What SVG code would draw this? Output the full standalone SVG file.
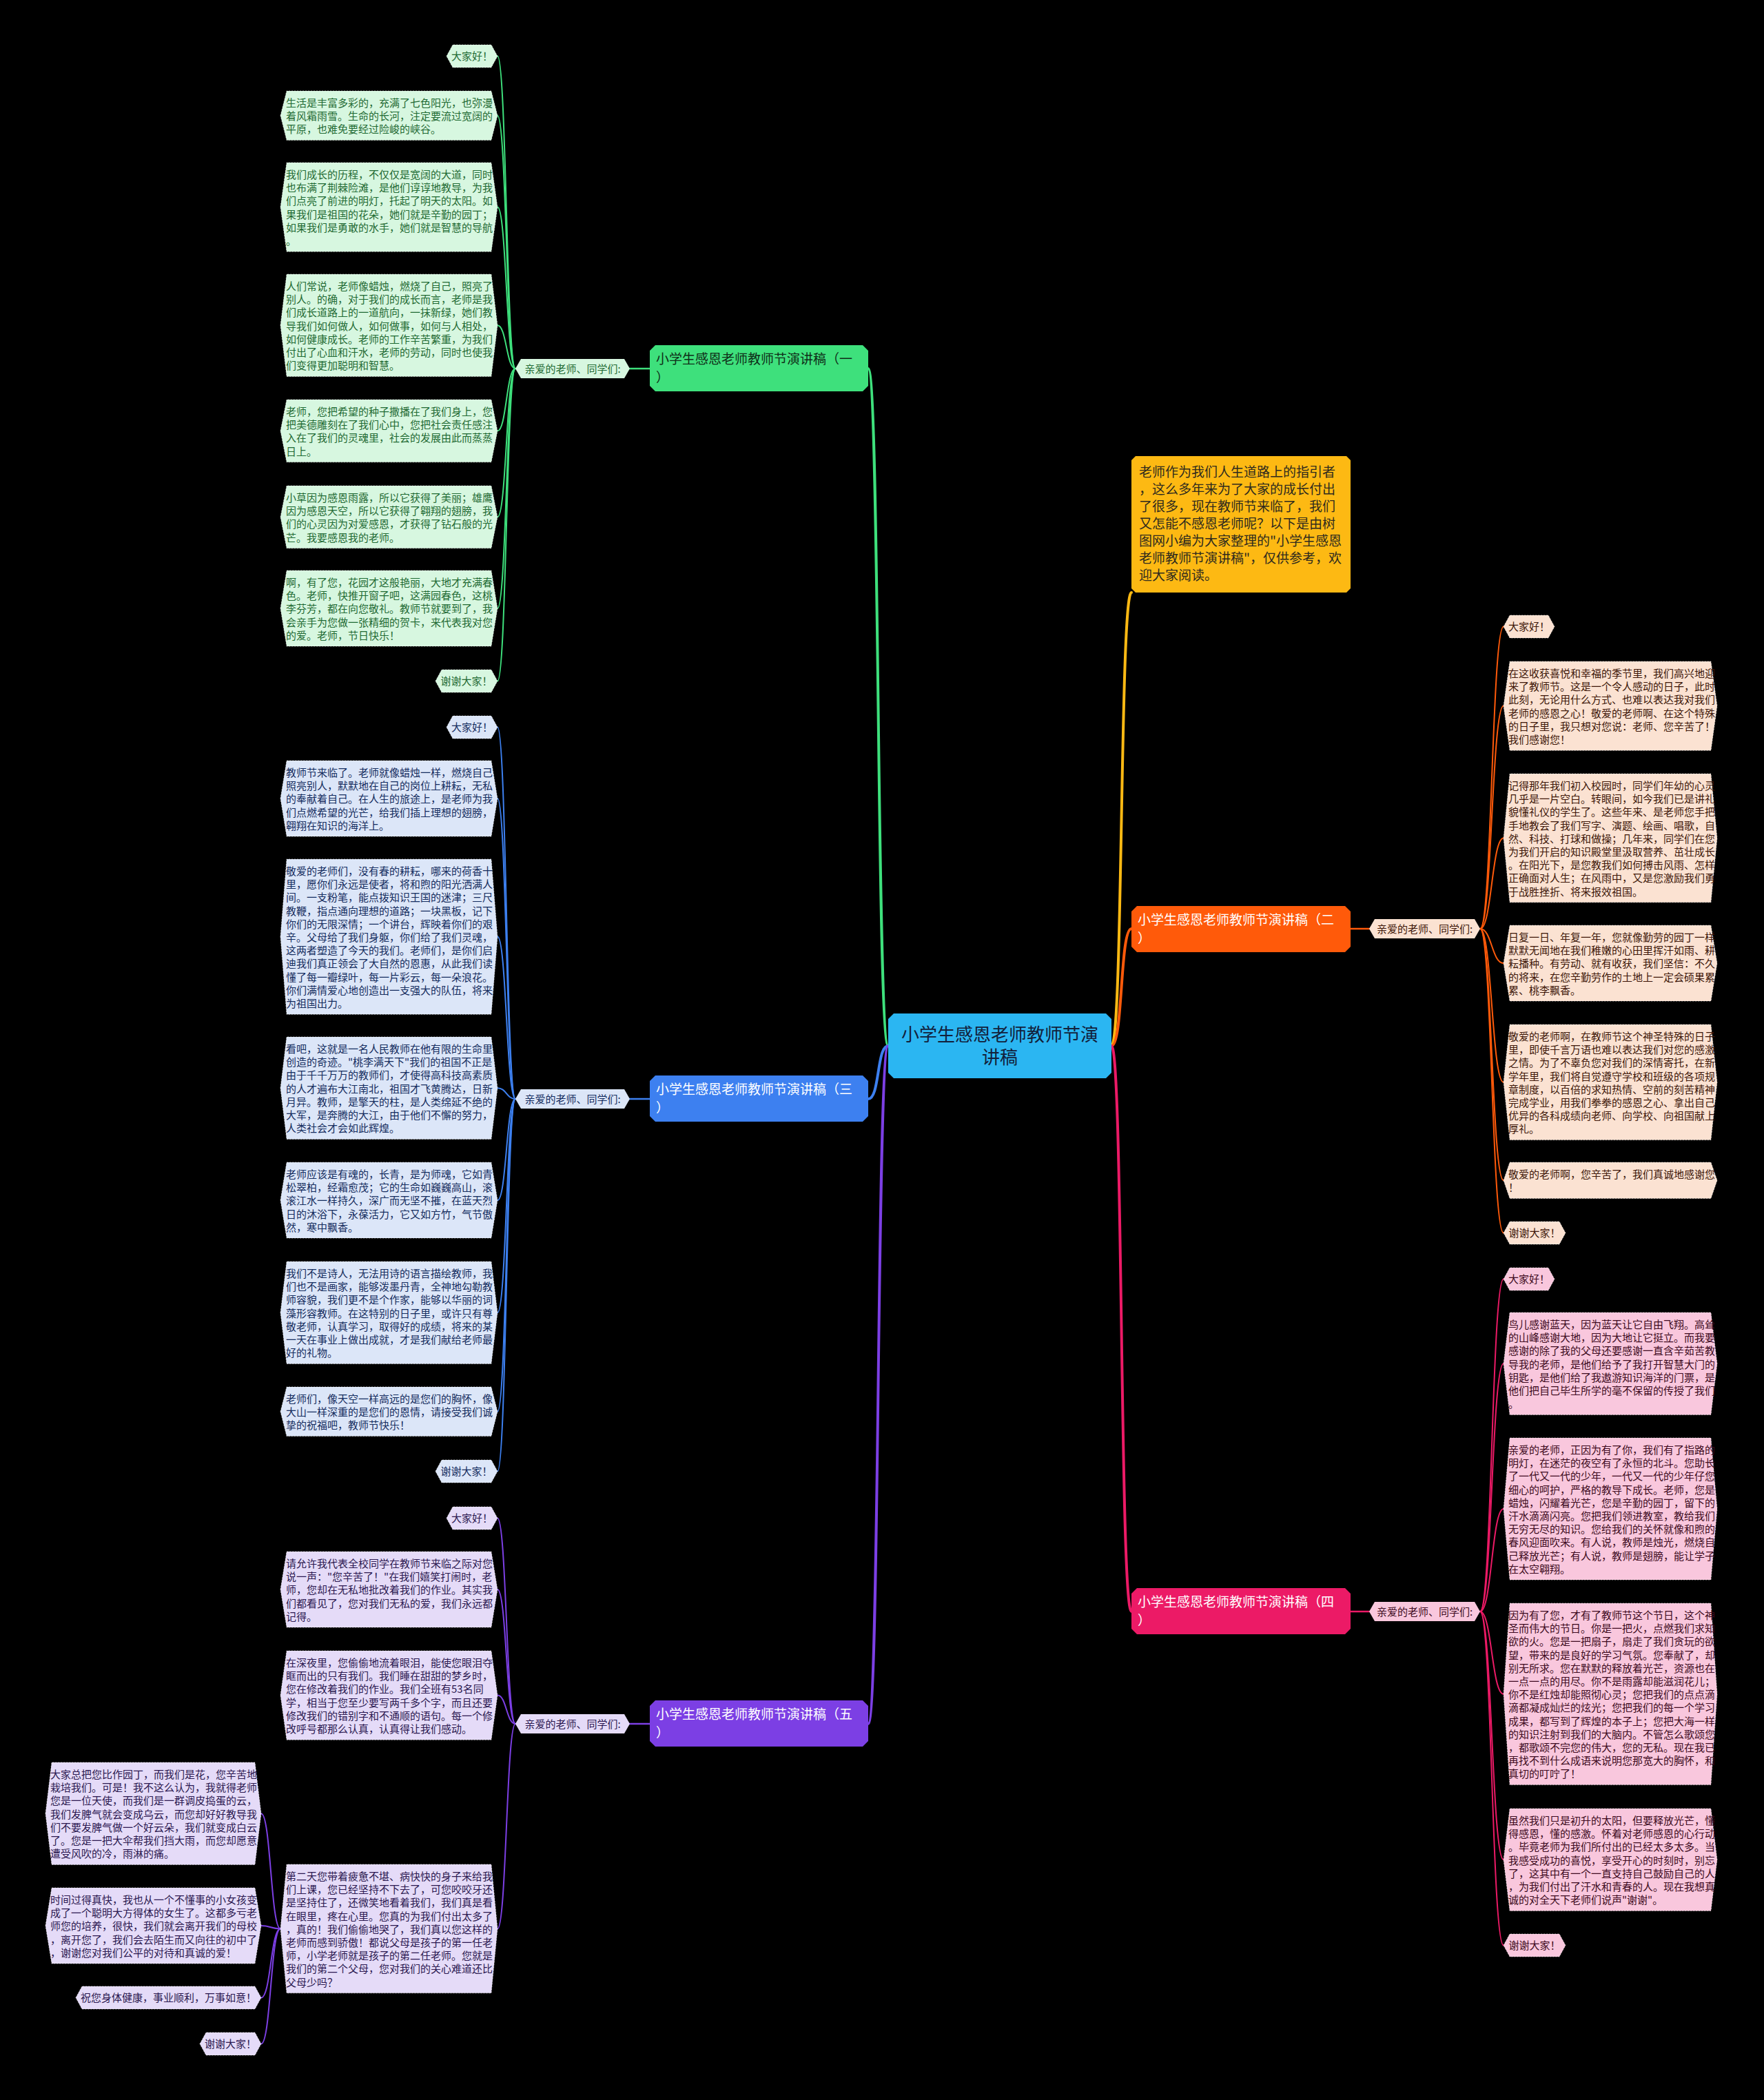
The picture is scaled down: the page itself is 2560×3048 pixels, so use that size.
<svg xmlns="http://www.w3.org/2000/svg" width="2560" height="3048" viewBox="0 0 2560 3048">
<style>
text{font-family:"Noto Sans CJK SC","Noto Sans",sans-serif}
.lt{font-size:15px}
.lb{font-size:15px}
.bt{font-size:19px}
.leaf{stroke:#ffffff;stroke-opacity:.55;stroke-width:1;stroke-dasharray:2 2}
.cn{fill:none;stroke-linecap:round}
.g .leaf,.gL{fill:#d7f7e0}.g text{fill:#1f6a33}
.b .leaf,.bL{fill:#dce6f8}.b text{fill:#142c5e}
.p .leaf,.pL{fill:#e5dbf8}.p text{fill:#2b1850}
.o .leaf,.oL{fill:#fbe2d2}.o text{fill:#3d1608}
.k .leaf,.kL{fill:#f9c7dd}.k text{fill:#3d0a20}
.mid{text-anchor:middle}
</style>
<rect x="0" y="0" width="2560" height="3048" fill="#000000"/>

<g id="connectors">
  <!-- center to branches -->
  <path class="cn" stroke="#3ee07c" stroke-width="4" d="M1289,1518 C1272,1518 1277,535 1260,535"/>
  <path class="cn" stroke="#3d80f0" stroke-width="4" d="M1289,1518 C1272,1518 1277,1595 1260,1595"/>
  <path class="cn" stroke="#7c3fe4" stroke-width="4" d="M1289,1518 C1272,1518 1277,2502 1260,2502"/>
  <path class="cn" stroke="#fdb913" stroke-width="4" d="M1613,1518 C1630,1518 1625,860 1642,860"/>
  <path class="cn" stroke="#ff5a0a" stroke-width="4" d="M1613,1518 C1630,1518 1625,1348 1642,1348"/>
  <path class="cn" stroke="#ec1a66" stroke-width="4" d="M1613,1518 C1630,1518 1625,2339 1642,2339"/>
  <!-- branch to label -->
  <path class="cn" stroke="#3ee07c" stroke-width="2.5" d="M914,535 L943,535"/>
  <path class="cn" stroke="#3d80f0" stroke-width="2.5" d="M914,1595 L943,1595"/>
  <path class="cn" stroke="#7c3fe4" stroke-width="2.5" d="M914,2502 L943,2502"/>
  <path class="cn" stroke="#ff5a0a" stroke-width="2.5" d="M1960,1348 L1987,1348"/>
  <path class="cn" stroke="#ec1a66" stroke-width="2.5" d="M1960,2339 L1987,2339"/>
  <!-- green leaves -->
  <g stroke="#3ee07c" stroke-width="2" class="cn">
    <path class="cn" d="M748,535 C735,535 735,81.5 722,81.5"/>
    <path class="cn" d="M748,535 C735,535 735,167.8 722,167.8"/>
    <path class="cn" d="M748,535 C735,535 735,300.6 722,300.6"/>
    <path class="cn" d="M748,535 C735,535 735,472.2 722,472.2"/>
    <path class="cn" d="M748,535 C735,535 735,625.4 722,625.4"/>
    <path class="cn" d="M748,535 C735,535 735,750.4 722,750.4"/>
    <path class="cn" d="M748,535 C735,535 735,883 722,883"/>
    <path class="cn" d="M748,535 C735,535 735,988.5 722,988.5"/>
  </g>
  <!-- blue leaves -->
  <g stroke="#3d80f0" stroke-width="2" class="cn">
    <path class="cn" d="M748,1595 C735,1595 735,1055.5 722,1055.5"/>
    <path class="cn" d="M748,1595 C735,1595 735,1159 722,1159"/>
    <path class="cn" d="M748,1595 C735,1595 735,1359.6 722,1359.6"/>
    <path class="cn" d="M748,1595 C735,1595 735,1579.2 722,1579.2"/>
    <path class="cn" d="M748,1595 C735,1595 735,1742 722,1742"/>
    <path class="cn" d="M748,1595 C735,1595 735,1905.2 722,1905.2"/>
    <path class="cn" d="M748,1595 C735,1595 735,2048.8 722,2048.8"/>
    <path class="cn" d="M748,1595 C735,1595 735,2135.5 722,2135.5"/>
  </g>
  <!-- purple leaves -->
  <g stroke="#7c3fe4" stroke-width="2" class="cn">
    <path class="cn" d="M748,2502 C735,2502 735,2203.5 722,2203.5"/>
    <path class="cn" d="M748,2502 C735,2502 735,2307 722,2307"/>
    <path class="cn" d="M748,2502 C735,2502 735,2460.6 722,2460.6"/>
    <path class="cn" d="M748,2502 C735,2502 735,2799.4 722,2799.4"/>
    <path class="cn" d="M407,2799.4 C393,2799.4 393,2632.2 379,2632.2"/>
    <path class="cn" d="M407,2799.4 C393,2799.4 393,2795 379,2795"/>
    <path class="cn" d="M407,2799.4 C393,2799.4 393,2899.5 379,2899.5"/>
    <path class="cn" d="M407,2799.4 C393,2799.4 393,2966.5 379,2966.5"/>
  </g>
  <!-- orange leaves -->
  <g stroke="#ff5a0a" stroke-width="2" class="cn">
    <path class="cn" d="M2148,1348 C2165,1348 2165,909.5 2182,909.5"/>
    <path class="cn" d="M2148,1348 C2165,1348 2165,1024.6 2182,1024.6"/>
    <path class="cn" d="M2148,1348 C2165,1348 2165,1216.4 2182,1216.4"/>
    <path class="cn" d="M2148,1348 C2165,1348 2165,1398 2182,1398"/>
    <path class="cn" d="M2148,1348 C2165,1348 2165,1570.8 2182,1570.8"/>
    <path class="cn" d="M2148,1348 C2165,1348 2165,1713.2 2182,1713.2"/>
    <path class="cn" d="M2148,1348 C2165,1348 2165,1789.5 2182,1789.5"/>
  </g>
  <!-- pink leaves -->
  <g stroke="#ec1a66" stroke-width="2" class="cn">
    <path class="cn" d="M2148,2339 C2165,2339 2165,1856.5 2182,1856.5"/>
    <path class="cn" d="M2148,2339 C2165,2339 2165,1979.2 2182,1979.2"/>
    <path class="cn" d="M2148,2339 C2165,2339 2165,2190 2182,2190"/>
    <path class="cn" d="M2148,2339 C2165,2339 2165,2458.8 2182,2458.8"/>
    <path class="cn" d="M2148,2339 C2165,2339 2165,2699.2 2182,2699.2"/>
    <path class="cn" d="M2148,2339 C2165,2339 2165,2823.5 2182,2823.5"/>
  </g>
</g>

<!-- center -->
<g id="center">
  <polygon points="1297,1471 1605,1471 1613,1479 1613,1557 1605,1565 1297,1565 1289,1557 1289,1479" fill="#2bb6f2"/>
  <text x="1451" y="1511" class="mid" font-size="26" fill="#12203a"><tspan x="1451">小学生感恩老师教师节演</tspan><tspan x="1451" dy="33">讲稿</tspan></text>
</g>

<!-- intro -->
<g id="intro">
  <polygon points="1648,662 1954,662 1960,668 1960,854 1954,860 1648,860 1642,854 1642,668" fill="#fdb913"/>
  <text x="1653" y="692" font-size="19" fill="#2e2a1e"><tspan x="1653">老师作为我们人生道路上的指引者</tspan><tspan x="1653" dy="25">，这么多年来为了大家的成长付出</tspan><tspan x="1653" dy="25">了很多，现在教师节来临了，我们</tspan><tspan x="1653" dy="25">又怎能不感恩老师呢？以下是由树</tspan><tspan x="1653" dy="25">图网小编为大家整理的"小学生感恩</tspan><tspan x="1653" dy="25">老师教师节演讲稿"，仅供参考，欢</tspan><tspan x="1653" dy="25">迎大家阅读。</tspan></text>
</g>

<!-- branch 1 green -->
<g id="branch1" class="g">
  <polygon points="951,501 1252,501 1260,509 1260,560 1252,568 951,568 943,560 943,509" fill="#3ee07c"/>
  <text x="952" y="528" class="bt" style="fill:#0f2e18"><tspan x="952">小学生感恩老师教师节演讲稿（一</tspan><tspan x="952" dy="27">）</tspan></text>
</g>
<g id="label1" class="g">
  <polygon class="gL" points="748,535 756,521 906,521 914,535 906,549 756,549"/>
  <text x="831" y="540.5" class="lb mid">亲爱的老师、同学们:</text>
</g>
<g id="g-leaves" class="g">
  <g id="g0"><polygon class="leaf" points="648,81.5 657,65 713,65 722,81.5 713,98 657,98"/><text x="685" y="87" class="lt mid">大家好！</text></g>
  <g id="g1"><polygon class="leaf" points="407,167.8 416,132 713,132 722,167.8 713,203.6 416,203.6"/><text x="415" y="155" class="lt"><tspan x="415">生活是丰富多彩的，充满了七色阳光，也弥漫</tspan><tspan x="415" dy="19.2">着风霜雨雪。生命的长河，注定要流过宽阔的</tspan><tspan x="415" dy="19.2">平原，也难免要经过险峻的峡谷。</tspan></text></g>
  <g id="g2"><polygon class="leaf" points="407,300.6 416,236 713,236 722,300.6 713,365.2 416,365.2"/><text x="415" y="259" class="lt"><tspan x="415">我们成长的历程，不仅仅是宽阔的大道，同时</tspan><tspan x="415" dy="19.2">也布满了荆棘险滩，是他们谆谆地教导，为我</tspan><tspan x="415" dy="19.2">们点亮了前进的明灯，托起了明天的太阳。如</tspan><tspan x="415" dy="19.2">果我们是祖国的花朵，她们就是辛勤的园丁；</tspan><tspan x="415" dy="19.2">如果我们是勇敢的水手，她们就是智慧的导航</tspan><tspan x="415" dy="19.2">。</tspan></text></g>
  <g id="g3"><polygon class="leaf" points="407,472.2 416,398 713,398 722,472.2 713,546.4 416,546.4"/><text x="415" y="421" class="lt"><tspan x="415">人们常说，老师像蜡烛，燃烧了自己，照亮了</tspan><tspan x="415" dy="19.2">别人。的确，对于我们的成长而言，老师是我</tspan><tspan x="415" dy="19.2">们成长道路上的一道航向，一抹新绿，她们教</tspan><tspan x="415" dy="19.2">导我们如何做人，如何做事，如何与人相处，</tspan><tspan x="415" dy="19.2">如何健康成长。老师的工作辛苦繁重，为我们</tspan><tspan x="415" dy="19.2">付出了心血和汗水，老师的劳动，同时也使我</tspan><tspan x="415" dy="19.2">们变得更加聪明和智慧。</tspan></text></g>
  <g id="g4"><polygon class="leaf" points="407,625.4 416,580 713,580 722,625.4 713,670.8 416,670.8"/><text x="415" y="603" class="lt"><tspan x="415">老师，您把希望的种子撒播在了我们身上，您</tspan><tspan x="415" dy="19.2">把美德雕刻在了我们心中，您把社会责任感注</tspan><tspan x="415" dy="19.2">入在了我们的灵魂里，社会的发展由此而蒸蒸</tspan><tspan x="415" dy="19.2">日上。</tspan></text></g>
  <g id="g5"><polygon class="leaf" points="407,750.4 416,705 713,705 722,750.4 713,795.8 416,795.8"/><text x="415" y="728" class="lt"><tspan x="415">小草因为感恩雨露，所以它获得了美丽；雄鹰</tspan><tspan x="415" dy="19.2">因为感恩天空，所以它获得了翱翔的翅膀，我</tspan><tspan x="415" dy="19.2">们的心灵因为对爱感恩，才获得了钻石般的光</tspan><tspan x="415" dy="19.2">芒。我要感恩我的老师。</tspan></text></g>
  <g id="g6"><polygon class="leaf" points="407,883 416,828 713,828 722,883 713,938 416,938"/><text x="415" y="851" class="lt"><tspan x="415">啊，有了您，花园才这般艳丽，大地才充满春</tspan><tspan x="415" dy="19.2">色。老师，快推开窗子吧，这满园春色，这桃</tspan><tspan x="415" dy="19.2">李芬芳，都在向您敬礼。教师节就要到了，我</tspan><tspan x="415" dy="19.2">会亲手为您做一张精细的贺卡，来代表我对您</tspan><tspan x="415" dy="19.2">的爱。老师，节日快乐！</tspan></text></g>
  <g id="g7"><polygon class="leaf" points="632,988.5 641,972 713,972 722,988.5 713,1005 641,1005"/><text x="677" y="994" class="lt mid">谢谢大家！</text></g>
</g>

<!-- branch 3 blue -->
<g id="branch3" class="b">
  <polygon points="951,1561 1252,1561 1260,1569 1260,1620 1252,1628 951,1628 943,1620 943,1569" fill="#3d80f0"/>
  <text x="952" y="1588" class="bt" style="fill:#ffffff"><tspan x="952">小学生感恩老师教师节演讲稿（三</tspan><tspan x="952" dy="27">）</tspan></text>
</g>
<g id="label3" class="b">
  <polygon class="bL" points="748,1595 756,1581 906,1581 914,1595 906,1609 756,1609"/>
  <text x="831" y="1600.5" class="lb mid">亲爱的老师、同学们:</text>
</g>
<g id="b-leaves" class="b">
  <g id="b0"><polygon class="leaf" points="648,1055.5 657,1039 713,1039 722,1055.5 713,1072 657,1072"/><text x="685" y="1061" class="lt mid">大家好！</text></g>
  <g id="b1"><polygon class="leaf" points="407,1159 416,1104 713,1104 722,1159 713,1214 416,1214"/><text x="415" y="1127" class="lt"><tspan x="415">教师节来临了。老师就像蜡烛一样，燃烧自己</tspan><tspan x="415" dy="19.2">照亮别人，默默地在自己的岗位上耕耘，无私</tspan><tspan x="415" dy="19.2">的奉献着自己。在人生的旅途上，是老师为我</tspan><tspan x="415" dy="19.2">们点燃希望的光芒，给我们插上理想的翅膀，</tspan><tspan x="415" dy="19.2">翱翔在知识的海洋上。</tspan></text></g>
  <g id="b2"><polygon class="leaf" points="407,1359.6 416,1247 713,1247 722,1359.6 713,1472.2 416,1472.2"/><text x="415" y="1270" class="lt"><tspan x="415">敬爱的老师们，没有春的耕耘，哪来的荷香十</tspan><tspan x="415" dy="19.2">里，愿你们永远是使者，将和煦的阳光洒满人</tspan><tspan x="415" dy="19.2">间。一支粉笔，能点拨知识王国的迷津；三尺</tspan><tspan x="415" dy="19.2">教鞭，指点通向理想的道路；一块黑板，记下</tspan><tspan x="415" dy="19.2">你们的无限深情；一个讲台，辉映着你们的艰</tspan><tspan x="415" dy="19.2">辛。父母给了我们身躯，你们给了我们灵魂，</tspan><tspan x="415" dy="19.2">这两者塑造了今天的我们。老师们，是你们启</tspan><tspan x="415" dy="19.2">迪我们真正领会了大自然的恩惠，从此我们读</tspan><tspan x="415" dy="19.2">懂了每一瓣绿叶，每一片彩云，每一朵浪花。</tspan><tspan x="415" dy="19.2">你们满情爱心地创造出一支强大的队伍，将来</tspan><tspan x="415" dy="19.2">为祖国出力。</tspan></text></g>
  <g id="b3"><polygon class="leaf" points="407,1579.2 416,1505 713,1505 722,1579.2 713,1653.4 416,1653.4"/><text x="415" y="1528" class="lt"><tspan x="415">看吧，这就是一名人民教师在他有限的生命里</tspan><tspan x="415" dy="19.2">创造的奇迹。"桃李满天下"我们的祖国不正是</tspan><tspan x="415" dy="19.2">由于千千万万的教师们，才使得高科技高素质</tspan><tspan x="415" dy="19.2">的人才遍布大江南北，祖国才飞黄腾达，日新</tspan><tspan x="415" dy="19.2">月异。教师，是擎天的柱，是人类绵延不绝的</tspan><tspan x="415" dy="19.2">大军，是奔腾的大江，由于他们不懈的努力，</tspan><tspan x="415" dy="19.2">人类社会才会如此辉煌。</tspan></text></g>
  <g id="b4"><polygon class="leaf" points="407,1742 416,1687 713,1687 722,1742 713,1797 416,1797"/><text x="415" y="1710" class="lt"><tspan x="415">老师应该是有魂的，长青，是为师魂，它如青</tspan><tspan x="415" dy="19.2">松翠柏，经霜愈茂；它的生命如巍巍高山，滚</tspan><tspan x="415" dy="19.2">滚江水一样持久，深广而无坚不摧，在蓝天烈</tspan><tspan x="415" dy="19.2">日的沐浴下，永葆活力，它又如方竹，气节傲</tspan><tspan x="415" dy="19.2">然，寒中飘香。</tspan></text></g>
  <g id="b5"><polygon class="leaf" points="407,1905.2 416,1831 713,1831 722,1905.2 713,1979.4 416,1979.4"/><text x="415" y="1854" class="lt"><tspan x="415">我们不是诗人，无法用诗的语言描绘教师，我</tspan><tspan x="415" dy="19.2">们也不是画家，能够泼墨丹青，全神地勾勒教</tspan><tspan x="415" dy="19.2">师容貌，我们更不是个作家，能够以华丽的词</tspan><tspan x="415" dy="19.2">藻形容教师。在这特别的日子里，或许只有尊</tspan><tspan x="415" dy="19.2">敬老师，认真学习，取得好的成绩，将来的某</tspan><tspan x="415" dy="19.2">一天在事业上做出成就，才是我们献给老师最</tspan><tspan x="415" dy="19.2">好的礼物。</tspan></text></g>
  <g id="b6"><polygon class="leaf" points="407,2048.8 416,2013 713,2013 722,2048.8 713,2084.6 416,2084.6"/><text x="415" y="2036" class="lt"><tspan x="415">老师们，像天空一样高远的是您们的胸怀，像</tspan><tspan x="415" dy="19.2">大山一样深重的是您们的恩情，请接受我们诚</tspan><tspan x="415" dy="19.2">挚的祝福吧，教师节快乐！</tspan></text></g>
  <g id="b7"><polygon class="leaf" points="632,2135.5 641,2119 713,2119 722,2135.5 713,2152 641,2152"/><text x="677" y="2141" class="lt mid">谢谢大家！</text></g>
</g>

<!-- branch 5 purple -->
<g id="branch5" class="p">
  <polygon points="951,2468 1252,2468 1260,2476 1260,2527 1252,2535 951,2535 943,2527 943,2476" fill="#7c3fe4"/>
  <text x="952" y="2495" class="bt" style="fill:#ffffff"><tspan x="952">小学生感恩老师教师节演讲稿（五</tspan><tspan x="952" dy="27">）</tspan></text>
</g>
<g id="label5" class="p">
  <polygon class="pL" points="748,2502 756,2488 906,2488 914,2502 906,2516 756,2516"/>
  <text x="831" y="2507.5" class="lb mid">亲爱的老师、同学们:</text>
</g>
<g id="p-leaves" class="p">
  <g id="p0"><polygon class="leaf" points="648,2203.5 657,2187 713,2187 722,2203.5 713,2220 657,2220"/><text x="685" y="2209" class="lt mid">大家好！</text></g>
  <g id="p1"><polygon class="leaf" points="407,2307 416,2252 713,2252 722,2307 713,2362 416,2362"/><text x="415" y="2275" class="lt"><tspan x="415">请允许我代表全校同学在教师节来临之际对您</tspan><tspan x="415" dy="19.2">说一声："您辛苦了！"在我们嬉笑打闹时，老</tspan><tspan x="415" dy="19.2">师，您却在无私地批改着我们的作业。其实我</tspan><tspan x="415" dy="19.2">们都看见了，您对我们无私的爱，我们永远都</tspan><tspan x="415" dy="19.2">记得。</tspan></text></g>
  <g id="p2"><polygon class="leaf" points="407,2460.6 416,2396 713,2396 722,2460.6 713,2525.2 416,2525.2"/><text x="415" y="2419" class="lt"><tspan x="415">在深夜里，您偷偷地流着眼泪，能使您眼泪夺</tspan><tspan x="415" dy="19.2">眶而出的只有我们。我们睡在甜甜的梦乡时，</tspan><tspan x="415" dy="19.2">您在修改着我们的作业。我们全班有53名同</tspan><tspan x="415" dy="19.2">学，相当于您至少要写两千多个字，而且还要</tspan><tspan x="415" dy="19.2">修改我们的错别字和不通顺的语句。每一个修</tspan><tspan x="415" dy="19.2">改呼号都那么认真，认真得让我们感动。</tspan></text></g>
  <g id="p3"><polygon class="leaf" points="407,2799.4 416,2706 713,2706 722,2799.4 713,2892.8 416,2892.8"/><text x="415" y="2729" class="lt"><tspan x="415">第二天您带着疲惫不堪、病快快的身子来给我</tspan><tspan x="415" dy="19.2">们上课，您已经坚持不下去了，可您咬咬牙还</tspan><tspan x="415" dy="19.2">是坚持住了，还微笑地看着我们，我们真是看</tspan><tspan x="415" dy="19.2">在眼里，疼在心里。您真的为我们付出太多了</tspan><tspan x="415" dy="19.2">，真的！我们偷偷地哭了，我们真以您这样的</tspan><tspan x="415" dy="19.2">老师而感到骄傲！都说父母是孩子的第一任老</tspan><tspan x="415" dy="19.2">师，小学老师就是孩子的第二任老师。您就是</tspan><tspan x="415" dy="19.2">我们的第二个父母，您对我们的关心难道还比</tspan><tspan x="415" dy="19.2">父母少吗？</tspan></text></g>
  <g id="p4"><polygon class="leaf" points="66,2632.2 75,2558 370,2558 379,2632.2 370,2706.4 75,2706.4"/><text x="73" y="2581" class="lt"><tspan x="73">大家总把您比作园丁，而我们是花，您辛苦地</tspan><tspan x="73" dy="19.2">栽培我们。可是！我不这么认为，我就得老师</tspan><tspan x="73" dy="19.2">您是一位天使，而我们是一群调皮捣蛋的云，</tspan><tspan x="73" dy="19.2">我们发脾气就会变成乌云，而您却好好教导我</tspan><tspan x="73" dy="19.2">们不要发脾气做一个好云朵，我们就变成白云</tspan><tspan x="73" dy="19.2">了。您是一把大伞帮我们挡大雨，而您却愿意</tspan><tspan x="73" dy="19.2">遭受风吹的冷，雨淋的痛。</tspan></text></g>
  <g id="p5"><polygon class="leaf" points="66,2795 75,2740 370,2740 379,2795 370,2850 75,2850"/><text x="73" y="2763" class="lt"><tspan x="73">时间过得真快，我也从一个不懂事的小女孩变</tspan><tspan x="73" dy="19.2">成了一个聪明大方得体的女生了。这都多亏老</tspan><tspan x="73" dy="19.2">师您的培养，很快，我们就会离开我们的母校</tspan><tspan x="73" dy="19.2">，离开您了，我们会去陌生而又向往的初中了</tspan><tspan x="73" dy="19.2">，谢谢您对我们公平的对待和真诚的爱！</tspan></text></g>
  <g id="p6"><polygon class="leaf" points="110,2899.5 119,2883 370,2883 379,2899.5 370,2916 119,2916"/><text x="244.5" y="2905" class="lt mid">祝您身体健康，事业顺利，万事如意！</text></g>
  <g id="p7"><polygon class="leaf" points="290,2966.5 299,2950 370,2950 379,2966.5 370,2983 299,2983"/><text x="334.5" y="2972" class="lt mid">谢谢大家！</text></g>
</g>

<!-- branch 2 orange -->
<g id="branch2" class="o">
  <polygon points="1650,1315 1952,1315 1960,1323 1960,1374 1952,1382 1650,1382 1642,1374 1642,1323" fill="#ff5a0a"/>
  <text x="1651" y="1342" class="bt" style="fill:#ffffff"><tspan x="1651">小学生感恩老师教师节演讲稿（二</tspan><tspan x="1651" dy="27">）</tspan></text>
</g>
<g id="label2" class="o">
  <polygon class="oL" points="1987,1348 1995,1334 2140,1334 2148,1348 2140,1362 1995,1362"/>
  <text x="2067.5" y="1353.5" class="lb mid">亲爱的老师、同学们:</text>
</g>
<g id="o-leaves" class="o">
  <g id="o0"><polygon class="leaf" points="2182,909.5 2191,893 2247,893 2256,909.5 2247,926 2191,926"/><text x="2219" y="915" class="lt mid">大家好！</text></g>
  <g id="o1"><polygon class="leaf" points="2182,1024.6 2191,960 2483,960 2492,1024.6 2483,1089.2 2191,1089.2"/><text x="2189" y="983" class="lt"><tspan x="2189">在这收获喜悦和幸福的季节里，我们高兴地迎</tspan><tspan x="2189" dy="19.2">来了教师节。这是一个令人感动的日子，此时</tspan><tspan x="2189" dy="19.2">此刻，无论用什么方式、也难以表达我对我们</tspan><tspan x="2189" dy="19.2">老师的感恩之心！敬爱的老师啊、在这个特殊</tspan><tspan x="2189" dy="19.2">的日子里，我只想对您说：老师、您辛苦了！</tspan><tspan x="2189" dy="19.2">我们感谢您！</tspan></text></g>
  <g id="o2"><polygon class="leaf" points="2182,1216.4 2191,1123 2483,1123 2492,1216.4 2483,1309.8 2191,1309.8"/><text x="2189" y="1146" class="lt"><tspan x="2189">记得那年我们初入校园时，同学们年幼的心灵</tspan><tspan x="2189" dy="19.2">几乎是一片空白。转眼间，如今我们已是讲礼</tspan><tspan x="2189" dy="19.2">貌懂礼仪的学生了。这些年来、是老师您手把</tspan><tspan x="2189" dy="19.2">手地教会了我们写字、演题、绘画、唱歌，自</tspan><tspan x="2189" dy="19.2">然、科技、打球和做操；几年来，同学们在您</tspan><tspan x="2189" dy="19.2">为我们开启的知识殿堂里汲取营养、茁壮成长</tspan><tspan x="2189" dy="19.2">。在阳光下，是您教我们如何搏击风雨、怎样</tspan><tspan x="2189" dy="19.2">正确面对人生；在风雨中，又是您激励我们勇</tspan><tspan x="2189" dy="19.2">于战胜挫折、将来报效祖国。</tspan></text></g>
  <g id="o3"><polygon class="leaf" points="2182,1398 2191,1343 2483,1343 2492,1398 2483,1453 2191,1453"/><text x="2189" y="1366" class="lt"><tspan x="2189">日复一日、年复一年，您就像勤劳的园丁一样</tspan><tspan x="2189" dy="19.2">默默无闻地在我们稚嫩的心田里挥汗如雨、耕</tspan><tspan x="2189" dy="19.2">耘播种。有劳动、就有收获，我们坚信：不久</tspan><tspan x="2189" dy="19.2">的将来，在您辛勤劳作的土地上一定会硕果累</tspan><tspan x="2189" dy="19.2">累、桃李飘香。</tspan></text></g>
  <g id="o4"><polygon class="leaf" points="2182,1570.8 2191,1487 2483,1487 2492,1570.8 2483,1654.6 2191,1654.6"/><text x="2189" y="1510" class="lt"><tspan x="2189">敬爱的老师啊，在教师节这个神圣特殊的日子</tspan><tspan x="2189" dy="19.2">里，即使千言万语也难以表达我们对您的感激</tspan><tspan x="2189" dy="19.2">之情。为了不辜负您对我们的深情寄托，在新</tspan><tspan x="2189" dy="19.2">学年里，我们将自觉遵守学校和班级的各项规</tspan><tspan x="2189" dy="19.2">章制度，以百倍的求知热情、空前的刻苦精神</tspan><tspan x="2189" dy="19.2">完成学业，用我们拳拳的感恩之心、拿出自己</tspan><tspan x="2189" dy="19.2">优异的各科成绩向老师、向学校、向祖国献上</tspan><tspan x="2189" dy="19.2">厚礼。</tspan></text></g>
  <g id="o5"><polygon class="leaf" points="2182,1713.2 2191,1687 2483,1687 2492,1713.2 2483,1739.4 2191,1739.4"/><text x="2189" y="1710" class="lt"><tspan x="2189">敬爱的老师啊，您辛苦了，我们真诚地感谢您</tspan><tspan x="2189" dy="19.2">！</tspan></text></g>
  <g id="o6"><polygon class="leaf" points="2182,1789.5 2191,1773 2263,1773 2272,1789.5 2263,1806 2191,1806"/><text x="2227" y="1795" class="lt mid">谢谢大家！</text></g>
</g>

<!-- branch 4 pink -->
<g id="branch4" class="k">
  <polygon points="1650,2305 1952,2305 1960,2313 1960,2364 1952,2372 1650,2372 1642,2364 1642,2313" fill="#ec1a66"/>
  <text x="1651" y="2332" class="bt" style="fill:#ffffff"><tspan x="1651">小学生感恩老师教师节演讲稿（四</tspan><tspan x="1651" dy="27">）</tspan></text>
</g>
<g id="label4" class="k">
  <polygon class="kL" points="1987,2339 1995,2325 2140,2325 2148,2339 2140,2353 1995,2353"/>
  <text x="2067.5" y="2344.5" class="lb mid">亲爱的老师、同学们:</text>
</g>
<g id="k-leaves" class="k">
  <g id="k0"><polygon class="leaf" points="2182,1856.5 2191,1840 2247,1840 2256,1856.5 2247,1873 2191,1873"/><text x="2219" y="1862" class="lt mid">大家好！</text></g>
  <g id="k1"><polygon class="leaf" points="2182,1979.2 2191,1905 2483,1905 2492,1979.2 2483,2053.4 2191,2053.4"/><text x="2189" y="1928" class="lt"><tspan x="2189">鸟儿感谢蓝天，因为蓝天让它自由飞翔。高耸</tspan><tspan x="2189" dy="19.2">的山峰感谢大地，因为大地让它挺立。而我要</tspan><tspan x="2189" dy="19.2">感谢的除了我的父母还要感谢一直含辛茹苦教</tspan><tspan x="2189" dy="19.2">导我的老师，是他们给予了我打开智慧大门的</tspan><tspan x="2189" dy="19.2">钥匙，是他们给了我遨游知识海洋的门票，是</tspan><tspan x="2189" dy="19.2">他们把自己毕生所学的毫不保留的传授了我们</tspan><tspan x="2189" dy="19.2">。</tspan></text></g>
  <g id="k2"><polygon class="leaf" points="2182,2190 2191,2087 2483,2087 2492,2190 2483,2293 2191,2293"/><text x="2189" y="2110" class="lt"><tspan x="2189">亲爱的老师，正因为有了你，我们有了指路的</tspan><tspan x="2189" dy="19.2">明灯，在迷茫的夜空有了永恒的北斗。您助长</tspan><tspan x="2189" dy="19.2">了一代又一代的少年，一代又一代的少年仔您</tspan><tspan x="2189" dy="19.2">细心的呵护，严格的教导下成长。老师，您是</tspan><tspan x="2189" dy="19.2">蜡烛，闪耀着光芒，您是辛勤的园丁，留下的</tspan><tspan x="2189" dy="19.2">汗水滴滴闪亮。您把我们领进教室，教给我们</tspan><tspan x="2189" dy="19.2">无穷无尽的知识。您给我们的关怀就像和煦的</tspan><tspan x="2189" dy="19.2">春风迎面吹来。有人说，教师是烛光，燃烧自</tspan><tspan x="2189" dy="19.2">己释放光芒；有人说，教师是翅膀，能让学子</tspan><tspan x="2189" dy="19.2">在太空翱翔。</tspan></text></g>
  <g id="k3"><polygon class="leaf" points="2182,2458.8 2191,2327 2483,2327 2492,2458.8 2483,2590.6 2191,2590.6"/><text x="2189" y="2350" class="lt"><tspan x="2189">因为有了您，才有了教师节这个节日，这个神</tspan><tspan x="2189" dy="19.2">圣而伟大的节日。你是一把火，点燃我们求知</tspan><tspan x="2189" dy="19.2">欲的火。您是一把扇子，扇走了我们贪玩的欲</tspan><tspan x="2189" dy="19.2">望，带来的是良好的学习气氛。您奉献了，却</tspan><tspan x="2189" dy="19.2">别无所求。您在默默的释放着光芒，资源也在</tspan><tspan x="2189" dy="19.2">一点一点的用尽。你不是雨露却能滋润花儿；</tspan><tspan x="2189" dy="19.2">你不是红烛却能照彻心灵；您把我们的点点滴</tspan><tspan x="2189" dy="19.2">滴都凝成灿烂的炫光；您把我们的每一个学习</tspan><tspan x="2189" dy="19.2">成果，都写到了辉煌的本子上；您把大海一样</tspan><tspan x="2189" dy="19.2">的知识注射到我们的大脑内。不管怎么歌颂您</tspan><tspan x="2189" dy="19.2">，都歌颂不完您的伟大，您的无私。现在我已</tspan><tspan x="2189" dy="19.2">再找不到什么成语来说明您那宽大的胸怀，和</tspan><tspan x="2189" dy="19.2">真切的叮咛了！</tspan></text></g>
  <g id="k4"><polygon class="leaf" points="2182,2699.2 2191,2625 2483,2625 2492,2699.2 2483,2773.4 2191,2773.4"/><text x="2189" y="2648" class="lt"><tspan x="2189">虽然我们只是初升的太阳，但要释放光芒，懂</tspan><tspan x="2189" dy="19.2">得感恩，懂的感激。怀着对老师感恩的心行动</tspan><tspan x="2189" dy="19.2">。毕竟老师为我们所付出的已经太多太多。当</tspan><tspan x="2189" dy="19.2">我感受成功的喜悦，享受开心的时刻时，别忘</tspan><tspan x="2189" dy="19.2">了，这其中有一个一直支持自己鼓励自己的人</tspan><tspan x="2189" dy="19.2">，为我们付出了汗水和青春的人。现在我想真</tspan><tspan x="2189" dy="19.2">诚的对全天下老师们说声"谢谢"。</tspan></text></g>
  <g id="k5"><polygon class="leaf" points="2182,2823.5 2191,2807 2263,2807 2272,2823.5 2263,2840 2191,2840"/><text x="2227" y="2829" class="lt mid">谢谢大家！</text></g>
</g>
</svg>
